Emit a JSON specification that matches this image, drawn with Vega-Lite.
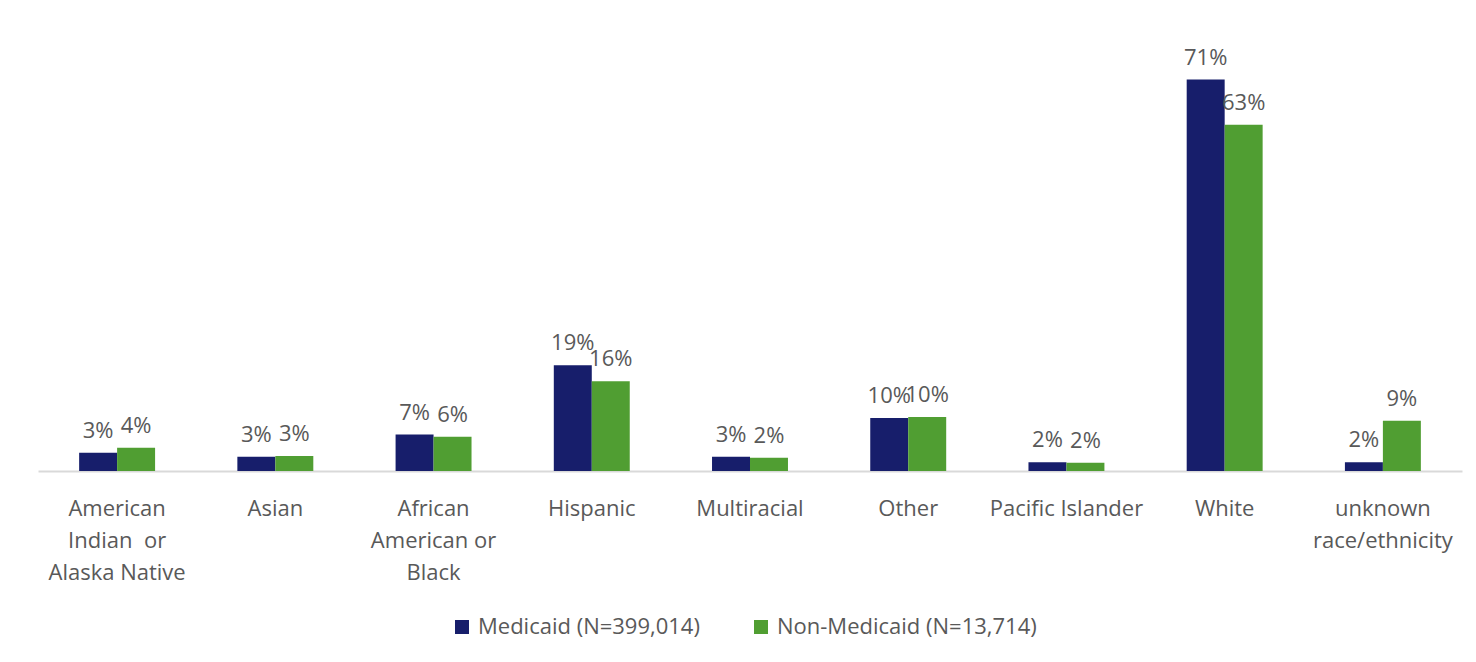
{
  "$schema": "https://vega.github.io/schema/vega-lite/v6.json",
  "width": 1424,
  "height": 441,
  "autosize": {"type": "none"},
  "padding": {"left": 38, "top": 30, "right": 14, "bottom": 191},
  "background": "white",
  "config": {"view": {"stroke": null}, "font": "Open Sans"},
  "data": {
    "values": [
      {"race": "American Indian or Alaska Native", "group": "Medicaid (N=399,014)", "value": 0.033},
      {"race": "American Indian or Alaska Native", "group": "Non-Medicaid (N=13,714)", "value": 0.042},
      {"race": "Asian", "group": "Medicaid (N=399,014)", "value": 0.026},
      {"race": "Asian", "group": "Non-Medicaid (N=13,714)", "value": 0.027},
      {"race": "African American or Black", "group": "Medicaid (N=399,014)", "value": 0.066},
      {"race": "African American or Black", "group": "Non-Medicaid (N=13,714)", "value": 0.062},
      {"race": "Hispanic", "group": "Medicaid (N=399,014)", "value": 0.192},
      {"race": "Hispanic", "group": "Non-Medicaid (N=13,714)", "value": 0.163},
      {"race": "Multiracial", "group": "Medicaid (N=399,014)", "value": 0.026},
      {"race": "Multiracial", "group": "Non-Medicaid (N=13,714)", "value": 0.024},
      {"race": "Other", "group": "Medicaid (N=399,014)", "value": 0.096},
      {"race": "Other", "group": "Non-Medicaid (N=13,714)", "value": 0.098},
      {"race": "Pacific Islander", "group": "Medicaid (N=399,014)", "value": 0.016},
      {"race": "Pacific Islander", "group": "Non-Medicaid (N=13,714)", "value": 0.015},
      {"race": "White", "group": "Medicaid (N=399,014)", "value": 0.71},
      {"race": "White", "group": "Non-Medicaid (N=13,714)", "value": 0.628},
      {"race": "unknown race/ethnicity", "group": "Medicaid (N=399,014)", "value": 0.016},
      {"race": "unknown race/ethnicity", "group": "Non-Medicaid (N=13,714)", "value": 0.091}
    ]
  },
  "encoding": {
    "x": {
      "field": "race",
      "type": "nominal",
      "sort": null,
      "scale": {"paddingInner": 0.52, "paddingOuter": 0.26},
      "axis": {
        "title": null,
        "labelAngle": 0,
        "ticks": false,
        "domainColor": "#d9d9d9",
        "domainWidth": 2,
        "labelFontSize": 22,
        "labelColor": "#595959",
        "labelPadding": 27,
        "labelLineHeight": 32,
        "labelLimit": 400,
        "labelExpr": "datum.value == 'American Indian or Alaska Native' ? ['American', 'Indian\u00a0\u00a0or', 'Alaska Native'] : datum.value == 'African American or Black' ? ['African', 'American or', 'Black'] : datum.value == 'unknown race/ethnicity' ? ['unknown', 'race/ethnicity'] : datum.value"
      }
    },
    "xOffset": {"field": "group", "type": "nominal", "sort": null, "scale": {"paddingInner": 0, "paddingOuter": 0}},
    "y": {"field": "value", "type": "quantitative", "scale": {"domain": [0, 0.8]}, "axis": null}
  },
  "layer": [
    {
      "mark": {"type": "bar"},
      "encoding": {
        "color": {
          "field": "group",
          "type": "nominal",
          "sort": null,
          "scale": {"domain": ["Medicaid (N=399,014)", "Non-Medicaid (N=13,714)"], "range": ["#171e6b", "#509e32"]},
          "legend": {
            "title": null,
            "orient": "none",
            "legendX": 413,
            "legendY": 586,
            "direction": "horizontal",
            "symbolType": "square",
            "symbolSize": 196,
            "symbolStrokeWidth": 0,
            "labelFontSize": 22,
            "labelColor": "#595959",
            "labelOffset": 5,
            "columnPadding": 50,
            "labelLimit": 400
          }
        }
      }
    },
    {
      "mark": {"type": "text", "baseline": "alphabetic", "dy": -15, "fontSize": 22, "color": "#595959"},
      "encoding": {"text": {"field": "value", "type": "quantitative", "format": ".0%"}}
    }
  ]
}
